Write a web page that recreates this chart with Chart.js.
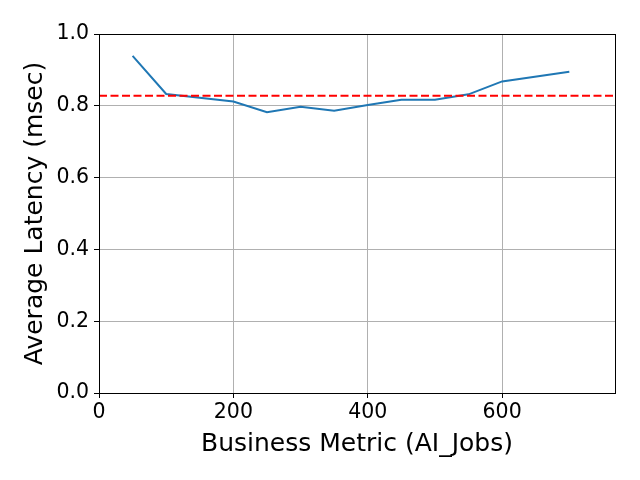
<!DOCTYPE html>
<html>
<head>
<meta charset="utf-8">
<script src="https://cdn.jsdelivr.net/npm/chart.js@4"></script>
<style>
  html, body { margin: 0; padding: 0; background: #fff; }
  #wrap { width: 640px; height: 480px; }
</style>
</head>
<body>
<div id="wrap"><canvas id="myChart" width="640" height="480"></canvas></div>
<script>
// values
const jobs = [50, 100, 200, 250, 300, 350, 400, 450, 500, 550, 600, 700];
const latency = [0.939, 0.833, 0.812, 0.782, 0.797, 0.786, 0.802, 0.817, 0.817, 0.832, 0.868, 0.895];
const avgLatency = 0.828;
const xTicks = [0, 200, 400, 600];
const yTicks = [0.0, 0.2, 0.4, 0.6, 0.8, 1.0];
const xMax = 768;

const font = "'DejaVu Sans', sans-serif";

// black box round the plot area, like matplotlib's spines
const framePlugin = {
    id: 'frame',
    afterDatasetsDraw(chart) {
        const a = chart.chartArea;
        const ctx = chart.ctx;
        ctx.save();
        ctx.strokeStyle = '#000';
        ctx.lineWidth = 1;
        ctx.strokeRect(Math.round(a.left) + 0.5, Math.round(a.top) + 0.5,
            Math.round(a.right - a.left), Math.round(a.bottom - a.top));
        ctx.restore();
    }
};

const ctx = document.getElementById('myChart').getContext('2d');

const data = {
    datasets: [{
        label: 'latency',
        data: jobs.map((x, i) => ({x: x, y: latency[i]})),
        borderColor: '#1f77b4',
        borderWidth: 2,
        pointRadius: 0,
        tension: 0,
        order: 2
    }, {
        label: 'average',
        data: [{x: 0, y: avgLatency}, {x: xMax, y: avgLatency}],
        borderColor: '#ff0000',
        borderWidth: 2,
        borderDash: [8, 3.5],
        pointRadius: 0,
        order: 1
    }]
};

const config = {
    type: 'line',
    data: data,
    options: {
        responsive: false,
        animation: false,
        layout: {
            padding: {top: 34, right: 25, left: 0, bottom: 0}
        },
        plugins: {
            legend: {display: false},
            tooltip: {enabled: false}
        },
        scales: {
            x: {
                type: 'linear',
                min: 0,
                max: xMax,
                afterBuildTicks(scale) {
                    scale.ticks = xTicks.map(v => ({value: v}));
                },
                afterFit(scale) {
                    scale.height = 87;
                },
                grid: {
                    color: '#b0b0b0',
                    lineWidth: 1,
                    tickColor: '#000',
                    tickLength: 5
                },
                border: {display: false},
                ticks: {
                    color: '#000',
                    font: {family: font, size: 20.5},
                    padding: 2,
                    maxRotation: 0
                },
                title: {
                    display: true,
                    text: 'Business Metric (AI_Jobs)',
                    color: '#000',
                    font: {family: font, size: 25},
                    padding: {top: 0, bottom: 21}
                }
            },
            y: {
                min: 0,
                max: 1.0,
                afterBuildTicks(scale) {
                    scale.ticks = yTicks.map(v => ({value: v}));
                },
                afterFit(scale) {
                    scale.width = 99;
                },
                grid: {
                    color: '#b0b0b0',
                    lineWidth: 1,
                    tickColor: '#000',
                    tickLength: 5
                },
                border: {display: false},
                ticks: {
                    color: '#000',
                    font: {family: font, size: 20.5},
                    padding: 5,
                    callback: v => v.toFixed(1)
                },
                title: {
                    display: true,
                    text: 'Average Latency (msec)',
                    color: '#000',
                    font: {family: font, size: 25},
                    padding: {top: 20, bottom: 0}
                }
            }
        }
    },
    plugins: [framePlugin]
};

const myChart = new Chart(ctx, config);
</script>
</body>
</html>
